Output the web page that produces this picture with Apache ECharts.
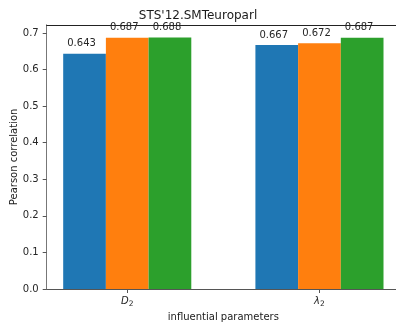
<!DOCTYPE html>
<html>
<head>
<meta charset="utf-8">
<script src="https://cdn.jsdelivr.net/npm/echarts@6/dist/echarts.min.js"></script>
<style>
  html, body { margin: 0; padding: 0; background: #fff; }
  #chart { width: 396px; height: 332px; }
</style>
</head>
<body>
<div id="chart"></div>
<script>
// Pearson correlation per influential parameter, three settings each
const categories = ['D', 'λ'];          // drawn as D₂ and λ₂
const catPositions = [0, 1];
const seriesA = [0.643, 0.667];
const seriesB = [0.687, 0.672];
const seriesC = [0.688, 0.687];
const yTicks = [0, 0.1, 0.2, 0.3, 0.4, 0.5, 0.6, 0.7];

const colors = ['#1f77b4', '#ff7f0e', '#2ca02c'];
const FONT = 'DejaVu Sans';

const chart = echarts.init(document.getElementById('chart'), null, { renderer: 'canvas' });

function barSeries(values, color) {
  return {
    type: 'bar',
    data: values.map((v, i) => [catPositions[i], v]),
    barWidth: 42.7,
    barGap: '0%',
    itemStyle: { color: color },
    label: {
      show: true,
      position: 'top',
      distance: 5,
      offset: [-3, 0],
      fontFamily: FONT,
      fontSize: 10,
      color: '#262626',
      formatter: p => p.value[1].toFixed(3)
    },
    emphasis: { disabled: true },
    animation: false
  };
}

chart.setOption({
  animation: false,
  title: {
    text: "STS'12.SMTeuroparl",
    left: 'center',
    top: 5,
    textStyle: { fontFamily: FONT, fontSize: 12, fontWeight: 'normal', color: '#1a1a1a' }
  },
  grid: { left: 46.7, right: -4, top: 24.8, bottom: 43, outerBoundsMode: 'none', containLabel: false },
  xAxis: [
    {
      type: 'value',
      min: -0.419,
      max: 1.419,
      splitLine: { show: false },
      axisLine: { show: true, onZero: false, lineStyle: { color: '#555', width: 1 } },
      axisTick: { show: true, length: 4, customValues: catPositions, lineStyle: { color: '#555' } },
      axisLabel: {
        customValues: catPositions,
        margin: 5,
        formatter: v => '{i|' + categories[Math.round(v)] + '}{s|2}',
        rich: {
          i: { fontFamily: FONT, fontStyle: 'italic', fontSize: 10, color: '#262626' },
          s: { fontFamily: FONT, fontSize: 7.5, color: '#262626', padding: [6, 0, 0, 0] }
        }
      },
      name: 'influential parameters',
      nameLocation: 'middle',
      nameMoveOverlap: false,
      nameGap: 23,
      nameTextStyle: { fontFamily: FONT, fontSize: 10, color: '#1a1a1a' }
    },
    {
      type: 'value',
      position: 'top',
      min: -0.419,
      max: 1.419,
      axisLine: { show: true, onZero: false, lineStyle: { color: '#222', width: 1 } },
      axisTick: { show: false },
      axisLabel: { show: false },
      splitLine: { show: false }
    }
  ],
  yAxis: {
    type: 'value',
    min: 0,
    max: 0.7224,
    splitLine: { show: false },
    axisLine: { show: true, onZero: false, lineStyle: { color: '#777', width: 1 } },
    axisTick: { show: true, length: 4, customValues: yTicks, lineStyle: { color: '#555' } },
    axisLabel: {
      customValues: yTicks,
      margin: 8,
      fontFamily: FONT,
      fontSize: 10,
      color: '#262626',
      formatter: v => v.toFixed(1)
    },
    name: 'Pearson correlation',
    nameLocation: 'middle',
    nameMoveOverlap: false,
    nameGap: 27,
    nameTextStyle: { fontFamily: FONT, fontSize: 10, color: '#1a1a1a' }
  },
  series: [
    barSeries(seriesA, colors[0]),
    barSeries(seriesB, colors[1]),
    barSeries(seriesC, colors[2])
  ]
});
</script>
</body>
</html>
